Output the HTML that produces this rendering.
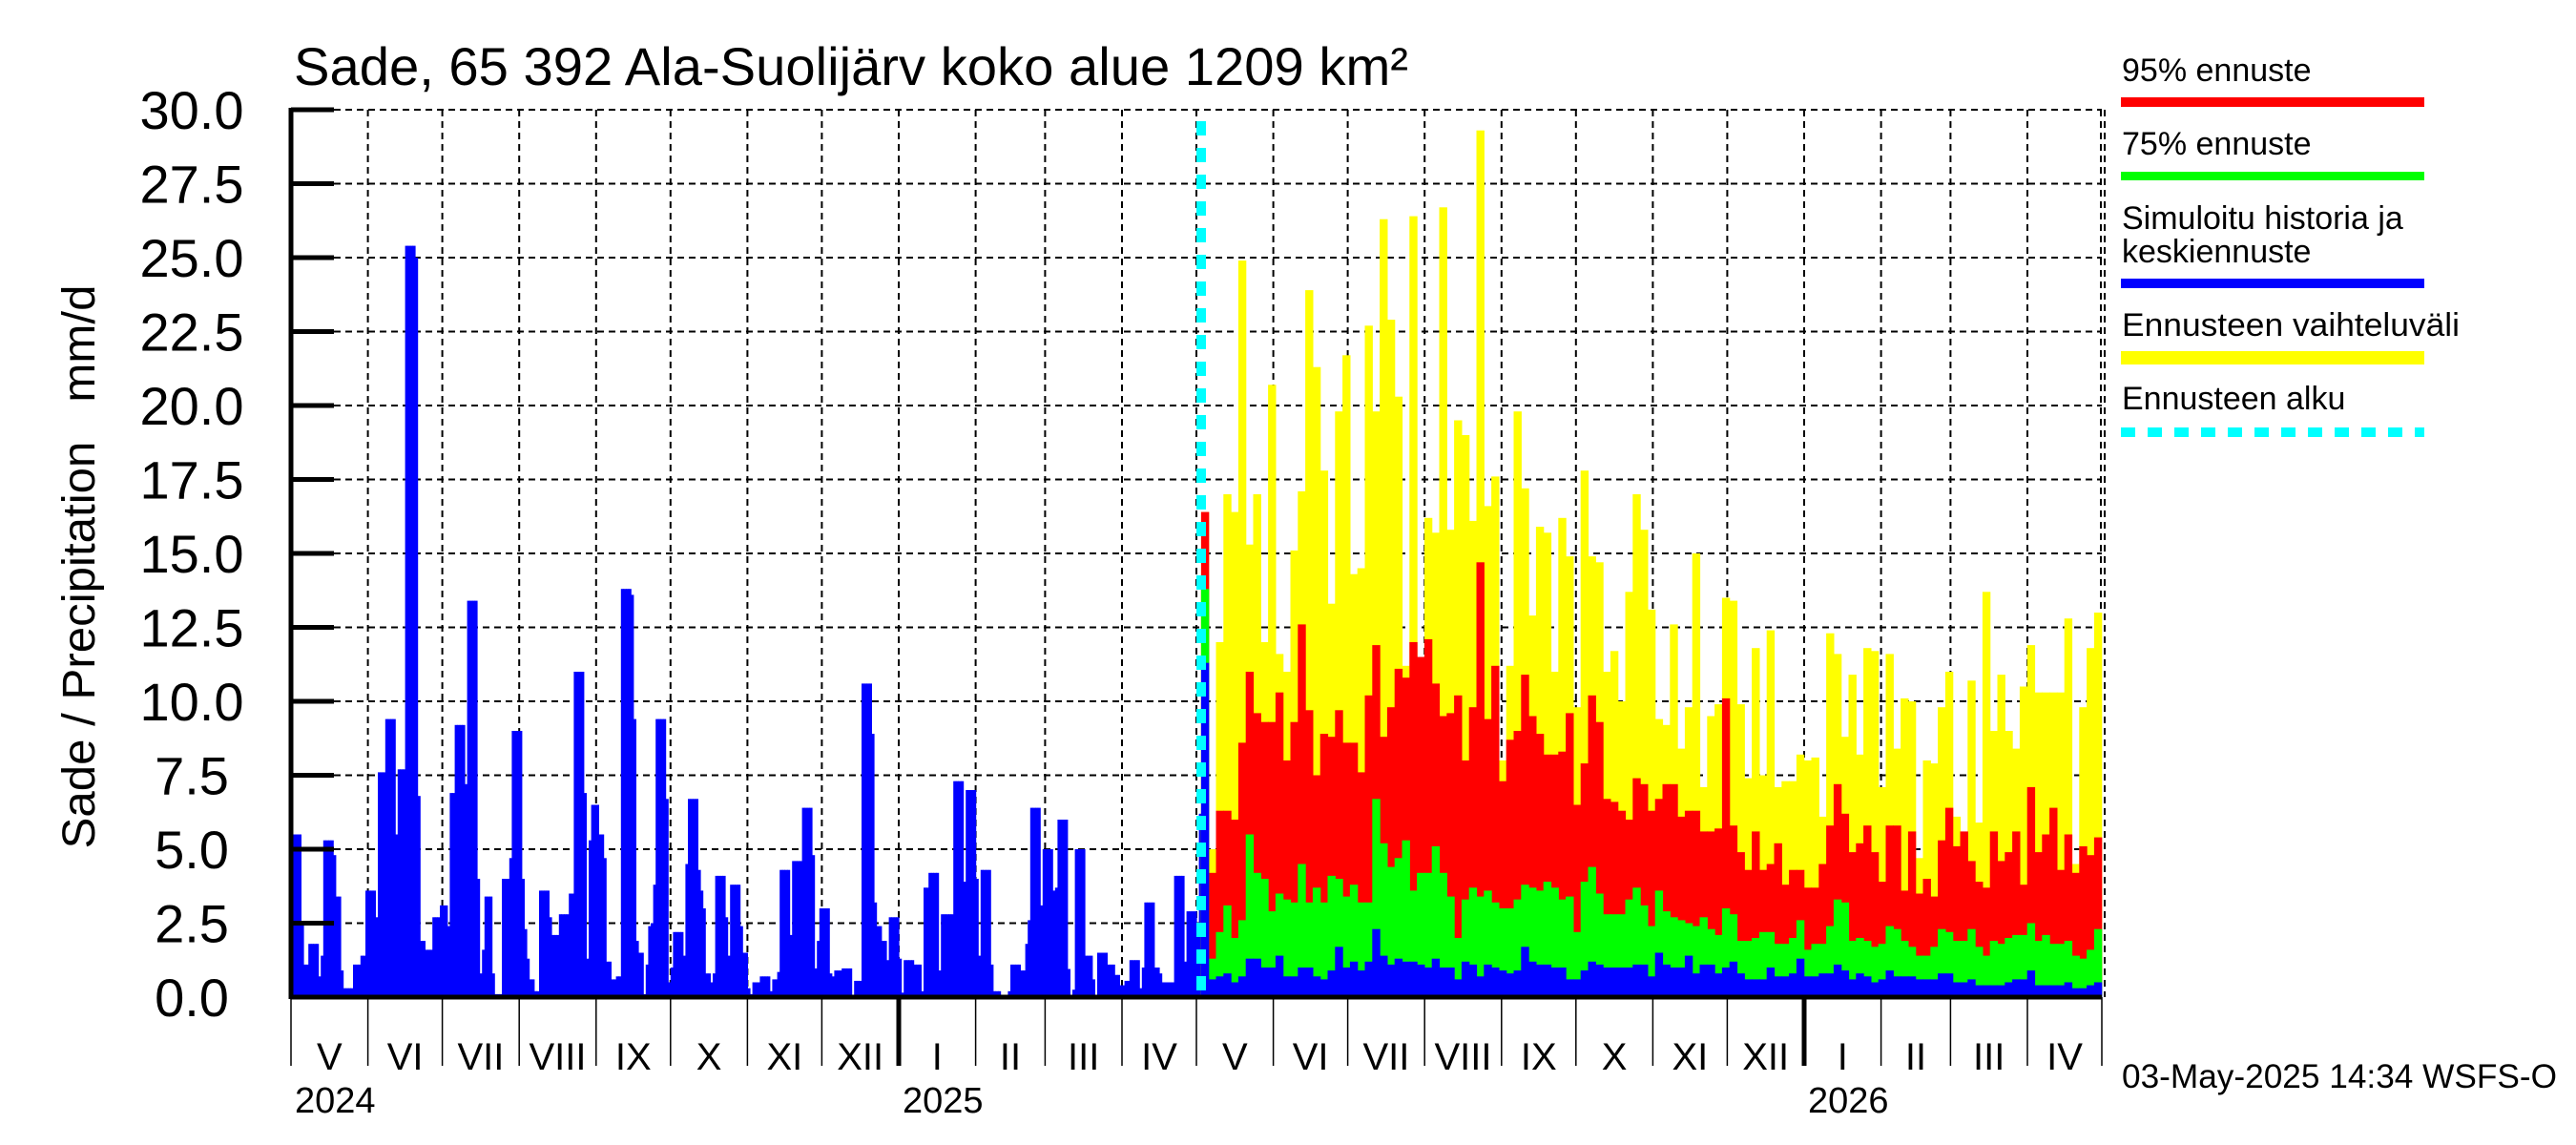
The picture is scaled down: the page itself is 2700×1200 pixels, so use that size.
<!DOCTYPE html>
<html><head><meta charset="utf-8"><title>Sade - Ala-Suolijärv</title>
<style>html,body{margin:0;padding:0;background:#fff;}svg{display:block;}text{font-family:"Liberation Sans",Arial,sans-serif;fill:#000;}</style>
</head><body>
<svg id="chart" width="2700" height="1200" viewBox="0 0 2700 1200" xmlns="http://www.w3.org/2000/svg">
<rect x="0" y="0" width="2700" height="1200" fill="#fff"/>
<g id="grid"></g>
<g id="bars"></g>
<g id="axes"></g>
<text x="308" y="89" font-size="56" textLength="1168" lengthAdjust="spacingAndGlyphs">Sade, 65 392 Ala-Suolijärv koko alue 1209 km²</text>
<text transform="translate(99,594) rotate(-90)" text-anchor="middle" font-size="48" textLength="591" lengthAdjust="spacingAndGlyphs" xml:space="preserve">Sade / Precipitation   mm/d</text>
<g>
<text x="2224" y="85" font-size="34">95% ennuste</text>
<rect x="2223" y="102" width="318" height="10" fill="#ff0000"/>
<text x="2224" y="162" font-size="34">75% ennuste</text>
<rect x="2223" y="180" width="318" height="9" fill="#00ff00"/>
<text x="2224" y="240" font-size="34">Simuloitu historia ja</text>
<text x="2224" y="275" font-size="34">keskiennuste</text>
<rect x="2223" y="292" width="318" height="10" fill="#0000ff"/>
<text x="2224" y="352" font-size="34" textLength="354" lengthAdjust="spacingAndGlyphs">Ennusteen vaihteluväli</text>
<rect x="2223" y="368" width="318" height="14" fill="#ffff00"/>
<text x="2224" y="429" font-size="34">Ennusteen alku</text>
<line x1="2223" y1="453" x2="2541" y2="453" stroke="#00ffff" stroke-width="10" stroke-dasharray="15 13"/>
</g>
<text x="2224" y="1140" font-size="35" textLength="456" lengthAdjust="spacingAndGlyphs">03-May-2025 14:34 WSFS-O</text>
</svg>
<script>
// ---- data ----
const yTicks = [0,2.5,5,7.5,10,12.5,15,17.5,20,22.5,25,27.5,30];
const yTickLabels = ["0.0","2.5","5.0","7.5","10.0","12.5","15.0","17.5","20.0","22.5","25.0","27.5","30.0"];
const monthLabels = ["V","VI","VII","VIII","IX","X","XI","XII","I","II","III","IV","V","VI","VII","VIII","IX","X","XI","XII","I","II","III","IV"];
const monthDays = [31,30,31,31,30,31,30,31,31,28,31,30,31,30,31,31,30,31,30,31,31,28,31,30];
const yearLabels = ["2024","2025","2026"];
const yearMonthIndex = [0,8,20];
// history daily (from 1 May 2024)
const history = [
5.5,5.5,5.5,5.5,2.5,1.1,1.1,1.8,1.8,1.8,1.8,0.7,1.4,5.3,5.3,5.3,5.3,4.8,3.4,3.4,
0.9,0.3,0.3,0.3,0.3,1.1,1.1,1.1,1.4,1.4,3.6,3.6,3.6,3.6,2.7,7.6,7.6,7.6,9.4,9.4,
9.4,9.4,5.5,7.7,7.7,7.7,25.4,25.4,25.4,25.4,25.0,6.8,1.9,1.9,1.6,1.6,1.6,2.7,2.7,2.7,
3.1,3.1,3.1,2.4,6.9,6.9,9.2,9.2,9.2,9.2,7.2,13.4,13.4,13.4,13.4,4.0,0.8,1.6,3.4,3.4,
3.4,0.8,0.1,0.1,0.1,4.0,4.0,4.0,4.7,9.0,9.0,9.0,9.0,4.0,2.3,1.3,0.6,0.6,0.2,0.2,
3.6,3.6,3.6,3.6,2.7,2.1,2.1,2.1,2.8,2.8,2.8,2.8,3.5,3.5,11.0,11.0,11.0,11.0,6.9,1.3,
5.3,6.5,6.5,6.5,5.5,5.5,4.7,1.2,1.2,0.6,0.6,0.7,0.7,13.8,13.8,13.8,13.8,13.6,9.4,1.9,
1.5,1.5,0.1,1.1,2.4,2.5,3.8,9.4,9.4,9.4,9.4,6.7,0.5,1.0,2.2,2.2,2.2,2.2,1.4,4.5,
6.7,6.7,6.7,6.7,4.3,3.6,3.0,0.8,0.8,0.5,0.8,4.1,4.1,4.1,4.1,2.7,1.4,3.8,3.8,3.8,
3.8,2.4,1.5,1.5,0.3,0.1,0.5,0.5,0.5,0.7,0.7,0.7,0.7,0.2,0.6,0.6,0.85,4.3,4.3,4.3,
4.3,2.1,4.6,4.6,4.6,4.6,6.4,6.4,6.4,6.4,4.8,0.97,1.9,3.0,3.0,3.0,3.0,0.8,0.7,0.9,
0.9,0.9,0.97,0.97,0.97,0.97,0.05,0.55,0.55,0.55,10.6,10.6,10.6,10.6,8.9,3.2,2.4,2.4,1.9,1.9,
1.25,2.7,2.7,2.7,2.7,1.3,0.15,1.25,1.25,1.25,1.25,1.1,1.1,1.1,0.2,3.7,3.7,4.2,4.2,4.2,
4.2,0.9,2.8,2.8,2.8,2.8,2.8,7.3,7.3,7.3,7.3,3.9,7.0,7.0,7.0,7.0,4.0,1.4,4.3,4.3,
4.3,4.3,1.1,0.2,0.2,0.2,0.08,0.08,0.08,0.2,1.1,1.1,1.1,1.1,0.9,0.9,1.8,2.6,6.4,6.4,
6.4,6.4,3.1,5.0,5.0,5.0,5.0,3.6,3.7,6.0,6.0,6.0,6.0,0.95,0.0,0.25,5.0,5.0,5.0,5.0,
1.4,1.4,1.4,0.6,0.0,1.5,1.5,1.5,1.5,1.1,1.1,1.1,0.75,0.75,0.4,0.4,0.55,0.55,1.25,1.25,
1.25,1.25,0.3,1.0,3.2,3.2,3.2,3.2,1.0,1.0,0.8,0.5,0.5,0.5,0.5,0.5,4.1,4.1,4.1,4.1,
1.2,2.9,2.9,2.9,2.9,2.4,6.2];
// forecast 3-day bins starting 3 May 2025
const fcMax = [16.4,5.0,12,17,16.4,24.9,15.3,17.0,12,20.7,11.6,11.0,15.1,17.1,23.9,21.3,17.8,13.3,19.8,21.7,
14.3,14.5,22.7,19.8,26.3,22.9,20.3,11.2,26.4,11.0,16.2,15.7,26.7,15.8,19.5,19.0,16.1,29.3,16.6,17.6,
8.0,11.2,19.8,17.2,12.9,15.9,15.7,11.0,16.2,14.9,9.8,17.8,14.9,14.7,11.0,11.7,10.0,13.7,17.0,15.8,
13.1,9.4,9.2,12.6,8.4,9.8,15.0,7.1,9.5,9.9,13.5,13.4,9.9,7.4,11.8,7.5,12.4,7.1,7.3,7.3,
8.2,8.0,8.1,6.1,12.3,11.6,8.8,10.9,8.2,11.8,11.7,7.1,11.6,8.4,10.1,10.0,4.7,8.0,7.9,9.8,
11.0,6.1,5.5,10.7,5.9,13.7,9.0,10.9,9.0,8.4,10.5,11.9,10.3,10.3,10.3,10.3,12.8,4.5,9.8,11.8,13.0];
const fc95 = [16.4,4.2,6.3,6.3,6.0,8.6,11.0,9.6,9.3,9.3,10.3,8.0,9.3,12.6,9.7,7.5,8.9,8.8,9.7,8.6,
8.6,7.6,10.2,11.9,8.8,9.8,11.1,10.8,12.0,11.5,12.1,10.6,9.5,9.6,10.2,8.0,9.8,14.7,9.4,11.2,
7.3,8.7,9.0,10.9,9.5,8.9,8.2,8.2,8.3,9.6,6.5,7.9,10.2,9.3,6.7,6.6,6.3,6.0,7.4,7.2,
6.3,6.7,7.2,7.2,6.1,6.3,6.3,5.6,5.6,5.7,10.1,5.8,4.9,4.3,5.6,4.3,4.5,5.2,3.8,4.3,
4.3,3.7,3.7,4.5,5.8,7.2,6.2,4.9,5.2,5.8,4.9,3.9,5.8,5.8,3.6,5.6,3.5,4.0,3.4,5.3,
6.4,5.1,5.6,4.6,3.9,3.7,5.6,4.6,4.9,5.6,3.8,7.1,4.9,5.5,6.4,4.3,5.5,4.2,5.1,4.8,5.4];
const fc75 = [13.8,1.3,2.2,3.1,2.0,2.6,5.5,4.2,4.0,2.9,3.5,3.3,3.2,4.5,3.2,3.7,3.2,4.1,4.0,3.4,
3.8,3.2,3.2,6.7,5.2,4.4,4.7,5.3,3.6,4.2,4.2,5.1,4.2,3.4,2.0,3.3,3.7,3.4,3.6,3.2,
3.0,3.0,3.3,3.8,3.7,3.6,3.9,3.7,3.3,3.4,2.2,3.9,4.4,3.5,2.8,2.8,2.8,3.3,3.7,3.1,
2.4,3.6,2.9,2.7,2.6,2.5,2.4,2.7,2.3,2.1,3.0,2.8,1.9,1.9,2.0,2.2,2.2,1.8,1.8,2.0,
2.6,1.6,1.8,1.8,2.4,3.3,3.2,1.9,2.0,1.9,1.7,1.8,2.4,2.3,1.9,1.7,1.4,1.4,1.7,2.3,
2.2,1.9,1.9,2.3,1.7,1.4,1.9,1.8,2.0,2.1,2.1,2.5,1.9,2.1,1.8,1.8,1.9,1.4,1.3,1.6,2.3];
const fcMed = [11.3,0.6,0.7,0.8,0.5,0.7,1.3,1.3,1.0,1.0,1.4,0.7,0.7,1.0,1.0,0.7,0.6,0.9,1.7,1.0,
1.2,0.9,1.2,2.3,1.4,1.1,1.3,1.2,1.2,1.1,1.0,1.3,1.0,1.0,0.6,1.2,1.1,0.7,1.1,1.0,
0.9,0.8,0.9,1.7,1.2,1.1,1.1,1.0,1.0,0.6,0.6,0.9,1.2,1.1,1.0,1.0,1.0,1.0,1.1,1.1,
0.7,1.5,1.1,1.0,1.0,1.4,0.8,1.1,1.1,0.8,1.0,1.2,0.8,0.6,0.6,0.6,1.0,0.7,0.7,0.8,
1.3,0.7,0.7,0.8,0.8,1.1,0.9,0.6,0.8,0.7,0.5,0.6,0.9,0.7,0.7,0.7,0.6,0.6,0.6,0.8,
0.8,0.5,0.5,0.6,0.4,0.4,0.4,0.4,0.5,0.6,0.6,0.9,0.4,0.4,0.4,0.4,0.5,0.3,0.3,0.4,0.5];
const forecastStartDay = 367;
const binDays = 3;

// ---- axes functions ----
const X0 = 305, PX_PER_DAY = 2.6, Y0 = 1045, PX_PER_UNIT = 31.0;
const xDay = d => X0 + d * PX_PER_DAY;
const yVal = v => Y0 - v * PX_PER_UNIT;
const NS = "http://www.w3.org/2000/svg";
function mk(tag, attrs, parent){const e=document.createElementNS(NS,tag);for(const k in attrs)e.setAttribute(k,attrs[k]);parent.appendChild(e);return e;}
const grid=document.getElementById('grid'), bars=document.getElementById('bars'), axes=document.getElementById('axes');
const totalDays = monthDays.reduce((a,b)=>a+b,0);
const xRight = xDay(totalDays);

yTicks.forEach((v,i)=>{
  const y=yVal(v);
  if(v>0){const g=mk('line',{x1:X0+45,y1:y,x2:xRight,y2:y,stroke:'#000','stroke-width':2,'stroke-dasharray':'7 5'},grid);
  
  }
  const t=mk('line',{x1:X0,y1:y,x2:X0+45,y2:y,stroke:'#000','stroke-width':5},axes);
  
  
  const l=mk('text',{x:201,y:y+20,'font-size':56,'text-anchor':'middle'},axes);
  l.textContent=yTickLabels[i];
  
  
});
let acc=0;
monthDays.forEach((md,i)=>{
  const xs=xDay(acc), xe=xDay(acc+md);
  if(i>0){const g=mk('line',{x1:xs,y1:yVal(30),x2:xs,y2:Y0,stroke:'#000','stroke-width':2,'stroke-dasharray':'7 5'},grid);
  
  }
  const isYear=yearMonthIndex.indexOf(i)>0;
  const t=mk('line',{x1:xs,y1:Y0,x2:xs,y2:1117,stroke:'#000','stroke-width':isYear?5:1.5},axes);
  
  
  const l=mk('text',{x:(xs+xe)/2,y:1121,'font-size':40,'text-anchor':'middle'},axes);
  l.textContent=monthLabels[i];
  
  
  const yi=yearMonthIndex.indexOf(i);
  if(yi>=0){const yl=mk('text',{x:xs+4,y:1166,'font-size':38},axes);
  yl.textContent=yearLabels[yi];
  
  }
  acc+=md;
});
{const t=mk('line',{x1:xRight,y1:Y0,x2:xRight,y2:1117,stroke:'#000','stroke-width':1.5},axes);

}
{const r=mk('line',{x1:xRight-1,y1:yVal(30),x2:xRight-1,y2:Y0,stroke:'#000','stroke-width':2,'stroke-dasharray':'7 5'},grid);


const r2=mk('line',{x1:xRight+3,y1:yVal(30),x2:xRight+3,y2:Y0,stroke:'#000','stroke-width':2,'stroke-dasharray':'7 5'},grid);

}

history.forEach((v,d)=>{
  if(v<=0)return;
  const r=mk('rect',{x:xDay(d),y:yVal(v),width:PX_PER_DAY+0.6,height:v*PX_PER_UNIT,fill:'#0000ff'},bars);
  
  
});
const layers=[[fcMax,'#ffff00','range-bar'],[fc95,'#ff0000','p95-bar'],[fc75,'#00ff00','p75-bar'],[fcMed,'#0000ff','median-bar']];
layers.forEach(([arr,col,name])=>{
  arr.forEach((v,b)=>{
    const d=forecastStartDay+b*binDays;
    const r=mk('rect',{x:xDay(d)-0.3,y:yVal(v),width:binDays*PX_PER_DAY+0.6,height:v*PX_PER_UNIT,fill:col},bars);
    
    
  });
});
{const c=mk('line',{x1:1259,y1:127,x2:1259,y2:Y0,stroke:'#00ffff','stroke-width':10,'stroke-dasharray':'15 13'},bars);

}
{const a=mk('line',{x1:X0,y1:yVal(30)-2,x2:X0,y2:Y0+2,stroke:'#000','stroke-width':5},axes);


const b=mk('line',{x1:X0,y1:Y0,x2:xRight,y2:Y0,stroke:'#000','stroke-width':5},axes);

}
</script>
</body></html>
